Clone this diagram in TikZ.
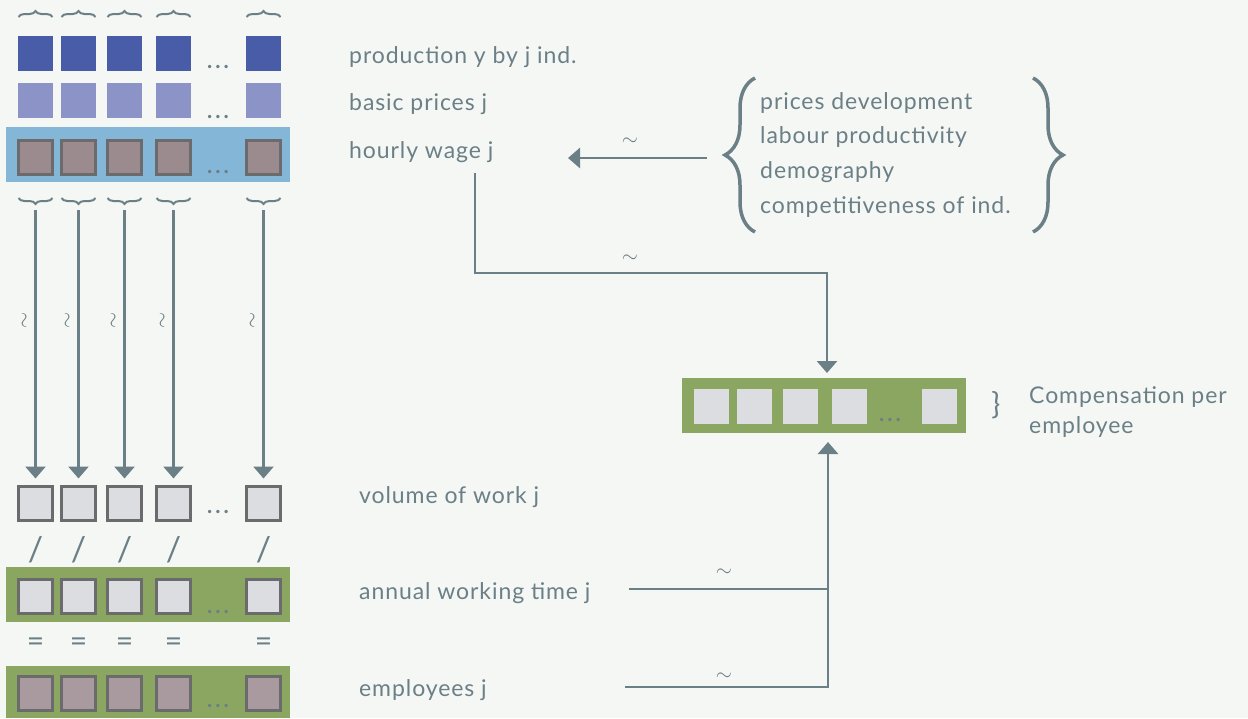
\documentclass[tikz,border=0pt]{standalone}
\usepackage{fontspec}
\setmainfont{Lato}[LetterSpace=4]
\usetikzlibrary{arrows.meta}
\usetikzlibrary{decorations.pathreplacing}
\tikzset{>={Triangle[length=12pt,width=20pt]}}
\definecolor{bgcol}{HTML}{F5F7F5}
\definecolor{linecol}{HTML}{6B7F86}
\definecolor{darkblue}{HTML}{485CA8}
\definecolor{lightviolet}{HTML}{8C93C6}
\definecolor{bandblue}{HTML}{84B6D8}
\definecolor{bandgreen}{HTML}{8AA660}
\definecolor{mauve}{HTML}{9B8A8E}
\definecolor{pinkgray}{HTML}{A89A9E}
\definecolor{palegray}{HTML}{DCDDE0}
\definecolor{boxedge}{HTML}{6B6B6E}

\begin{document}
\begin{tikzpicture}[x=1pt, y=-1pt,
    cell/.style={minimum size=35pt, inner sep=0pt, outer sep=0pt},
    framed/.style={cell, draw=boxedge, line width=3pt, minimum size=34pt, outer sep=1.5pt},
    lbl/.style={text=linecol, anchor=base west, inner sep=0pt, font=\fontsize{23}{28}\selectfont},
    sign/.style={text=linecol, inner sep=0pt, font=\fontsize{30}{32}\selectfont},
    wave/.style={text=linecol, inner sep=0pt, font=\fontsize{20}{24}\selectfont},
    dotrow/.style={text=linecol, anchor=base, inner sep=0pt, font=\bfseries\fontsize{22}{24}\selectfont},
    conn/.style={draw=linecol, line width=2.8pt},
    curly/.style={draw=linecol, line width=2pt, decorate, decoration={brace, amplitude=6pt}}]
    \fill[bgcol](0, 0)rectangle(1248, 718);
    \useasboundingbox(0, 0)rectangle(1248, 718);
    \fill[bandblue](6, 127)rectangle(290, 182);
    \fill[bandgreen](6, 567)rectangle(290, 622);
    \fill[bandgreen](6, 666)rectangle(290, 718);
    \foreach \x [count=\i] in {35.5, 78.5, 124.5, 173.5, 263.5}{
        \draw[curly](\x-17, 17)--(\x+17, 17);
        \node[cell, fill=darkblue](prod\i) at(\x, 53.5){};
        \node[cell, fill=lightviolet](price\i) at(\x, 100.5){};
        \node[framed, fill=mauve](wage\i) at(\x, 157.5){};
        \draw[curly](\x+17, 198)--(\x-17, 198);
        \coordinate(drop\i) at(\x, 210);
        \node[framed, fill=palegray](vol\i) at(\x, 503){};
        \draw[conn, ->, shorten >=6pt](drop\i)--(vol\i.north);
        \node[wave, rotate=90] at(\x-10, 320){$\sim$};
        \node[sign, font=\fontsize{34}{36}\selectfont] at(\x, 550){/};
        \node[framed, fill=palegray](time\i) at(\x, 596){};
        \node[sign] at(\x, 645){=};
        \node[framed, fill=pinkgray](emp\i) at(\x, 693){};
    }
    \foreach \y in {68, 118, 173, 513, 613, 707}
        \node[dotrow] at(218, \y){.\hspace{3pt}.\hspace{3pt}.};
    \node[lbl](prodlbl) at(349, 63){production y by j ind.};
    \node[lbl](pricelbl) at(349, 110){basic prices j};
    \node[lbl](wagelbl) at(349, 158){hourly wage j};
    \node[lbl](vollbl) at(359, 503){volume of work j};
    \node[lbl](timelbl) at(359, 599){annual working time j};
    \node[lbl](emplbl) at(359, 696){employees j};
    \foreach \t [count=\i] in {prices development, labour productivity, demography, competitiveness of ind.}
        \node[lbl](factor\i) at(760, 74.3+34.7*\i){\t};
    \draw[draw=linecol, line width=3.5pt, decorate, decoration={brace, amplitude=30pt}](755, 232)--(755, 78);
    \draw[draw=linecol, line width=3.5pt, decorate, decoration={brace, amplitude=30pt}](1033, 78)--(1033, 232);
    \coordinate(factail) at(707, 158);
    \coordinate(wagetip) at(568, 158);
    \draw[conn, ->](factail)--(wagetip);
    \node[wave] at(630, 142){$\sim$};
    \node[cell, fill=bandgreen, minimum width=284pt, minimum height=55pt](comp) at(824, 405.5){};
    \foreach \x [count=\i] in {711.5, 754.5, 800.5, 849.5, 939.5}
        \node[cell, fill=palegray](pay\i) at(\x, 406.5){};
    \node[dotrow] at(890, 421){.\hspace{3pt}.\hspace{3pt}.};
    \node[sign] at(996, 405){\}};
    \node[lbl](complbl) at(1029, 403){Compensation per};
    \node[lbl](emplylbl) at(1029, 433){employee};
    \coordinate(wagefoot) at(475, 173);
    \draw[conn, ->, shorten >=5pt](wagefoot)--++(0, 100)-|([xshift=3pt]comp.north);
    \node[wave] at(630, 259){$\sim$};
    \coordinate(worktail) at(629, 589);
    \coordinate(emptail) at(625, 687);
    \coordinate(join) at(828, 687);
    \draw[conn](worktail)--(worktail -| join);
    \draw[conn, ->, shorten >=9pt](emptail)--(join)--(join |- comp.south);
    \node[wave] at(724, 573){$\sim$};
    \node[wave] at(724, 677){$\sim$};
\end{tikzpicture}
\end{document}
